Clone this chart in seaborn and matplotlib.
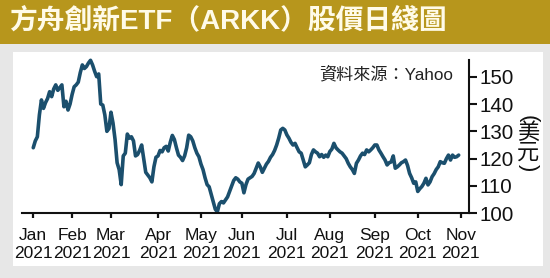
import matplotlib
matplotlib.use("Agg")
import matplotlib.pyplot as plt
import seaborn as sns
import pandas as pd
import numpy as np
from matplotlib.patches import Rectangle

sns.set_style("white")
plt.rcParams['font.family'] = ['Liberation Sans', 'Noto Sans CJK TC', 'DejaVu Sans']

# ---------------- data (daily closes) ----------------
holidays = ['2021-01-18', '2021-02-15', '2021-04-02', '2021-05-31',
            '2021-07-05', '2021-09-06']
jan = [124.0, 126.5, 128.0, 136.0, 141.5, 138.4, 140.5, 142.0, 144.5, 142.7,
       145.5, 147.0, 145.0, 146.0, 147.0, 139.0, 141.0, 137.8, 140.0]
feb = [143.5, 146.3, 147.0, 148.0, 151.5, 154.3, 153.0, 153.7, 155.0, 156.0,
       154.3, 152.0, 150.0, 151.0, 140.0, 139.6, 136.0, 130.0, 131.0]
mar = [137.0, 133.0, 127.0, 118.5, 116.0, 110.5, 121.0, 122.0, 129.0, 127.5,
       128.0, 126.5, 121.0, 121.5, 123.0, 125.0, 120.0, 115.0, 114.0, 113.0,
       111.5, 117.0, 120.5]
apr = [121.0, 123.0, 122.5, 124.0, 124.5, 122.8, 126.0, 128.5, 127.0, 124.0,
       121.3, 120.5, 119.3, 121.0, 124.0, 128.6, 128.0, 126.5, 124.0, 122.0,
       120.7]
may = [118.0, 116.0, 113.0, 110.5, 109.7, 107.0, 104.3, 101.5, 100.5, 103.5,
       104.3, 103.8, 104.9, 106.0, 108.0, 110.0, 112.0, 113.0, 112.5, 111.5]
jun = [111.0, 107.5, 110.5, 112.5, 113.0, 113.5, 114.6, 116.5, 118.4, 117.0,
       115.0, 116.5, 118.0, 119.0, 120.5, 121.5, 123.0, 125.0, 127.5, 130.5,
       131.1, 130.5]
jul = [128.7, 127.5, 126.0, 125.0, 125.6, 124.0, 122.5, 122.0, 119.5, 117.0,
       117.7, 118.5, 121.5, 123.2, 122.5, 122.0, 120.7, 121.5, 120.5, 121.3,
       120.7]
aug = [122.6, 123.5, 125.6, 124.0, 123.2, 122.5, 122.0, 121.0, 120.0, 118.3,
       117.0, 116.0, 114.6, 118.3, 119.5, 121.0, 122.0, 121.5, 123.2, 122.5,
       123.2, 124.0]
sep = [125.0, 125.0, 123.2, 122.0, 120.7, 119.5, 117.7, 118.5, 118.8, 121.0,
       116.5, 117.0, 117.7, 118.5, 118.9, 119.5, 117.5, 114.6, 113.0, 111.0,
       111.5]
octo = [108.0, 109.0, 109.8, 111.0, 112.8, 110.4, 111.5, 113.4, 114.5, 116.0,
        117.0, 118.9, 118.5, 118.3, 120.0, 121.3, 119.5, 121.3, 120.5, 120.7,
        121.3]
prices = jan + feb + mar + apr + may + jun + jul + aug + sep + octo

month_labels = ['Jan\n2021', 'Feb\n2021', 'Mar\n2021', 'Apr\n2021',
                'May\n2021', 'Jun\n2021', 'Jul\n2021', 'Aug\n2021',
                'Sep\n2021', 'Oct\n2021', 'Nov\n2021']
y_ticks = [100, 110, 120, 130, 140, 150]

title = '方舟創新ETF（ARKK）股價日綫圖'
source = '資料來源：Yahoo'

# ---------------- build ----------------
dates = pd.bdate_range('2021-01-04', '2021-10-29', freq='C', holidays=holidays)
df = pd.DataFrame({'date': dates, 'price': prices})
df['day'] = np.arange(len(df))
month_pos = [int(df.index[df['date'].dt.month == m][0]) for m in range(1, 11)]
month_pos.append(len(df))  # Nov 1 = next trading day

W, H = 550, 278
fig = plt.figure(figsize=(W / 100, H / 100), dpi=100, facecolor='#e7e7e7')
fig.patches.append(Rectangle((0, 1 - 44 / H), 1, 44 / H, transform=fig.transFigure,
                             facecolor='#b7961c', edgecolor='none', zorder=-10))
fig.patches.append(Rectangle((13 / W, 1 - 266 / H), (543 - 13) / W, (266 - 52) / H,
                             transform=fig.transFigure, facecolor='white',
                             edgecolor='none', zorder=-10))

ax = fig.add_axes([22 / W, 1 - 213.3 / H, (468.5 - 22) / W, (213.3 - 60.3) / H])
ax.set_zorder(5)
ax.set_facecolor('none')
sns.lineplot(data=df, x='day', y='price', ax=ax, color='#1b4f6d',
             linewidth=2.6, clip_on=False)
ax.set_xlim(-5.5, 212.8)
ax.set_ylim(100, 156)

for s in ['top', 'left']:
    ax.spines[s].set_visible(False)
for s in ['bottom', 'right']:
    ax.spines[s].set_linewidth(1.5)
    ax.spines[s].set_color('#111111')

ax.yaxis.tick_right()
ax.set_yticks(y_ticks)
ax.set_yticklabels([str(v) for v in y_ticks])
ax.tick_params(axis='y', direction='out', length=6, width=1.5, pad=2,
               labelsize=14.8, colors='#111111', right=True, left=False)
ax.set_xticks(month_pos)
ax.set_xticklabels(month_labels, fontfamily=['Liberation Sans Narrow', 'Liberation Sans'],
                   fontsize=12.5, linespacing=1.25)
ax.tick_params(axis='x', direction='out', length=3.6, width=1.6, pad=7.2,
               colors='#111111', bottom=True)
ax.set_xlabel('')
ax.set_ylabel('')

fig.text(8.8 / W, 1 - 22 / H, title, color='#fffbe8', fontsize=20,
         fontweight='bold', ha='left', va='center')
fig.text(452.7 / W, 1 - 74 / H, source, color='#222222', fontsize=12.3,
         ha='right', va='center')

ux = 528 / W
fig.text(ux, 1 - 119 / H, '(', rotation=-90, fontsize=16, ha='center', va='center', color='#111111')
fig.text(ux, 1 - 133.3 / H, '美', fontsize=16, ha='center', va='center', color='#111111')
fig.text(ux, 1 - 153.3 / H, '元', fontsize=16, ha='center', va='center', color='#111111')
fig.text(ux, 1 - 167.5 / H, ')', rotation=-90, fontsize=16, ha='center', va='center', color='#111111')

fig.savefig('out.png', dpi=100, facecolor=fig.get_facecolor())
